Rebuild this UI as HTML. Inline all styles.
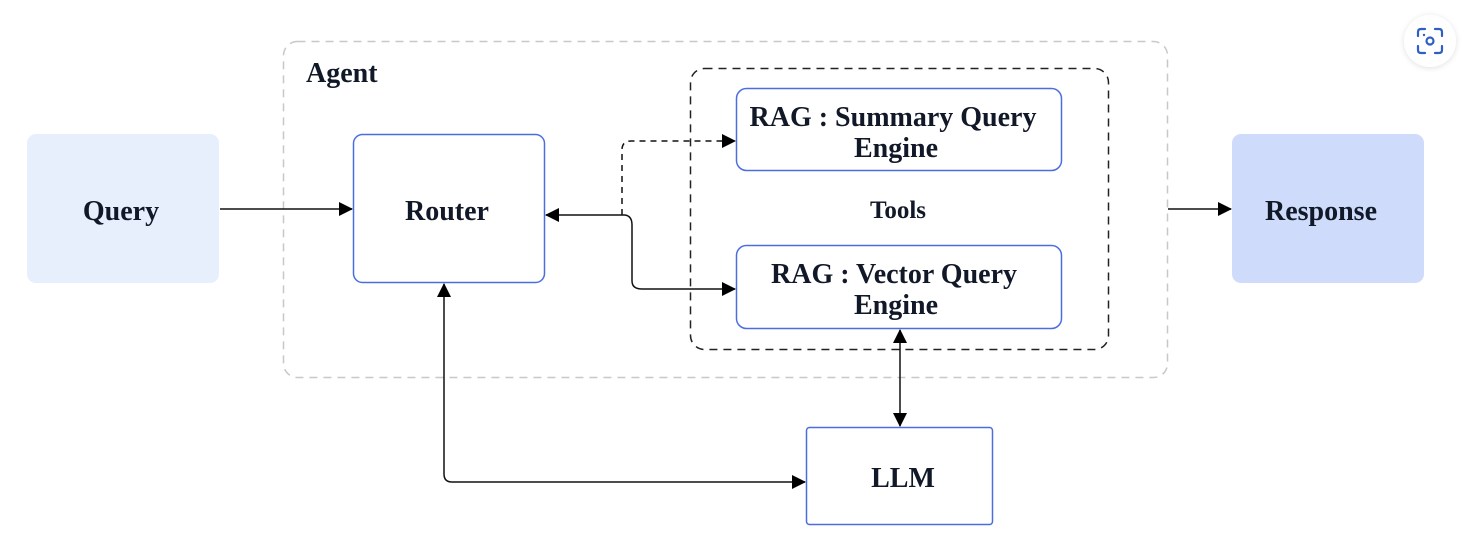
<!DOCTYPE html>
<html><head><style>
body{margin:0;background:#fff;}
svg text{font-family:"Liberation Serif",serif;font-weight:bold;fill:#111827;}
</style></head><body>
<svg width="1480" height="554" viewBox="0 0 1480 554" xmlns="http://www.w3.org/2000/svg">
<defs>
<marker id="a" markerWidth="14" markerHeight="14" refX="13" refY="7" orient="auto" markerUnits="userSpaceOnUse"><path d="M0,0 L14,7 L0,14 z" fill="#000"/></marker>
<marker id="as" markerWidth="14" markerHeight="14" refX="1" refY="7" orient="auto" markerUnits="userSpaceOnUse"><path d="M14,0 L0,7 L14,14 z" fill="#000"/></marker>
<filter id="sh"><feDropShadow dx="0" dy="1" stdDeviation="3" flood-color="#000" flood-opacity="0.12"/></filter>
</defs>
<rect x="283.5" y="41.5" width="884" height="336" rx="14" fill="none" stroke="#c8c8c8" stroke-width="1.5" stroke-dasharray="8,6"/>
<text x="306" y="82" font-size="28">Agent</text>
<rect x="690.5" y="68.5" width="418" height="281" rx="14" fill="none" stroke="#222" stroke-width="1.5" stroke-dasharray="8,6"/>
<rect x="27" y="134" width="192" height="149" rx="9" fill="#e7effd"/>
<text x="121" y="220" font-size="28" text-anchor="middle">Query</text>
<rect x="353.5" y="134.5" width="191" height="148" rx="9" fill="#fff" stroke="#4a6ee0" stroke-width="1.5"/>
<text x="447" y="220" font-size="28" text-anchor="middle">Router</text>
<rect x="736.5" y="88.5" width="325" height="82" rx="10" fill="#fff" stroke="#4a6ee0" stroke-width="1.5"/>
<text x="893" y="126" font-size="28" text-anchor="middle">RAG : Summary Query</text>
<text x="896" y="157" font-size="28" text-anchor="middle">Engine</text>
<text x="898" y="218" font-size="25" text-anchor="middle">Tools</text>
<rect x="736.5" y="245.5" width="325" height="83" rx="10" fill="#fff" stroke="#4a6ee0" stroke-width="1.5"/>
<text x="894" y="283" font-size="28" text-anchor="middle">RAG : Vector Query</text>
<text x="896" y="314" font-size="28" text-anchor="middle">Engine</text>
<rect x="806.5" y="427.5" width="186" height="97" rx="3" fill="#fff" stroke="#4a6ee0" stroke-width="1.5"/>
<text x="903" y="487" font-size="28" text-anchor="middle">LLM</text>
<rect x="1232" y="134" width="192" height="149" rx="9" fill="#cfdbfa"/>
<text x="1321" y="220" font-size="28" text-anchor="middle">Response</text>
<g fill="none" stroke="#111" stroke-width="1.5">
<path d="M220,209 H352" marker-end="url(#a)"/>
<path d="M1168,209 H1231" marker-end="url(#a)"/>
<path d="M625,215 H546" marker-end="url(#a)"/>
<path d="M622,215 V150 Q622,141 631,141 H735" stroke-dasharray="6,5" marker-end="url(#a)"/>
<path d="M625,215 Q632,216 632,225 V281 Q632,289 642,289 H735" marker-end="url(#a)"/>
<path d="M900,330 V426" marker-start="url(#as)" marker-end="url(#a)"/>
<path d="M444,284 V474 Q444,482 452,482 H805" marker-start="url(#as)" marker-end="url(#a)"/>
</g>
<circle cx="1430" cy="41" r="26" fill="#fff" filter="url(#sh)"/>
<g fill="none" stroke="#2f5fc4" stroke-width="2.2" stroke-linecap="round">
<path d="M1418,36 v-4 q0,-3 3,-3 h4 M1435,29 h4 q3,0 3,3 v4 M1442,46 v4 q0,3 -3,3 h-4 M1425,53 h-4 q-3,0 -3,-3 v-4"/>
<circle cx="1430" cy="41" r="3.5"/>
</g>
<circle cx="1424" cy="35" r="1.2" fill="#2f5fc4"/>
</svg>
</body></html>
